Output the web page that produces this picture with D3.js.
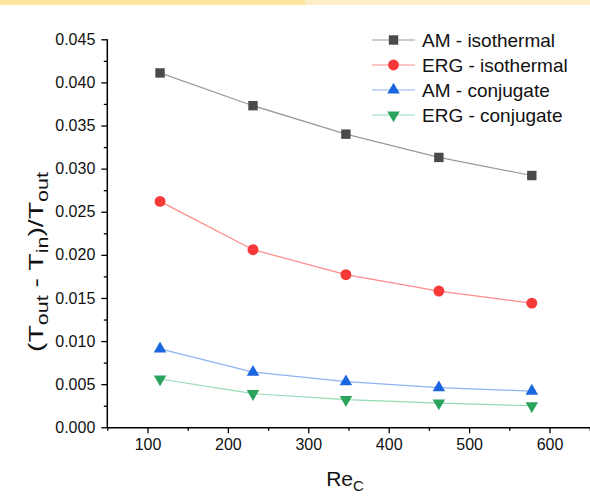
<!DOCTYPE html>
<html>
<head>
<meta charset="utf-8">
<script src="https://d3js.org/d3.v7.min.js"></script>
<style>
  body { margin: 0; background: #fff; }
  svg { display: block; font-family: "Liberation Sans", Arial, sans-serif; }
</style>
</head>
<body>
<svg id="chart" width="590" height="497"></svg>
<script>
// data
const reC = [115.6, 231.2, 346.8, 462.4, 578];
const amIso = [0.0411, 0.0373, 0.0340, 0.0313, 0.0292];
const ergIso = [0.0262, 0.0206, 0.0177, 0.0158, 0.0144];
const amConj = [0.0091, 0.0064, 0.0053, 0.0046, 0.0042];
const ergConj = [0.0056, 0.0039, 0.0032, 0.0028, 0.0025];
const seriesNames = ["AM - isothermal", "ERG - isothermal", "AM - conjugate", "ERG - conjugate"];
const xTicks = [100, 200, 300, 400, 500, 600];
const yTicks = [0, 0.005, 0.01, 0.015, 0.02, 0.025, 0.03, 0.035, 0.04, 0.045];

const svg = d3.select('#chart');

// top band
svg.append('rect').attr('x', 0).attr('y', 0).attr('width', 305).attr('height', 5).attr('fill', '#fde5a0');
svg.append('rect').attr('x', 305).attr('y', 0).attr('width', 285).attr('height', 5).attr('fill', '#fdeec6');

const x = d3.scaleLinear().domain([50, 650]).range([107.3, 589.7]);
const y = d3.scaleLinear().domain([0, 0.045]).range([427.3, 39.3]);

const series = [
  { name: seriesNames[0], values: amIso, line: '#9a9a9a', fill: '#4a4a4a', symbol: d3.symbolSquare, size: 68, rot: 0 },
  { name: seriesNames[1], values: ergIso, line: '#ff8a8a', fill: '#f53838', symbol: d3.symbolCircle, size: 72, rot: 0 },
  { name: seriesNames[2], values: amConj, line: '#8fb3f0', fill: '#1a66e0', symbol: d3.symbolTriangle, size: 52, rot: 0 },
  { name: seriesNames[3], values: ergConj, line: '#95dbb4', fill: '#2aa35c', symbol: d3.symbolTriangle, size: 52, rot: 180 }
];

// axes
const xMinor = d3.range(50, 651, 100);
const yMinor = d3.range(0.0025, 0.045, 0.005);

const xAxis = svg.append('g').attr('transform', 'translate(0,427.3)')
  .call(d3.axisBottom(x).tickValues(xTicks).tickFormat(d3.format('d')).tickSize(6).tickPadding(5));
svg.append('g').attr('transform', 'translate(0,427.3)')
  .call(d3.axisBottom(x).tickValues(xMinor).tickFormat('').tickSize(3.5))
  .select('.domain').remove();

const yAxis = svg.append('g').attr('transform', 'translate(107.3,0)')
  .call(d3.axisLeft(y).tickValues(yTicks).tickFormat(d3.format('.3f')).tickSize(6).tickPadding(6));
svg.append('g').attr('transform', 'translate(107.3,0)')
  .call(d3.axisLeft(y).tickValues(yMinor).tickFormat('').tickSize(3.5))
  .select('.domain').remove();

svg.selectAll('.domain').attr('stroke', '#000').attr('stroke-width', 1.5);
xAxis.select('.domain').attr('d', 'M107.3,0.5H590');
yAxis.select('.domain').attr('d', 'M0,39.3V427.3');
svg.selectAll('.tick line').attr('stroke', '#000').attr('stroke-width', 1.3);
svg.selectAll('.tick text').attr('fill', '#111').style('font-size', '16px').style('font-family', '"Liberation Sans", Arial, sans-serif');

// axis titles
const yt = svg.append('text')
  .attr('transform', 'translate(43,262) rotate(-90)')
  .attr('text-anchor', 'middle')
  .attr('textLength', 180).attr('lengthAdjust', 'spacingAndGlyphs')
  .style('font-size', '21px').attr('fill', '#111');
yt.append('tspan').text('(T');
yt.append('tspan').attr('dy', 5).style('font-size', '16px').text('out');
yt.append('tspan').attr('dy', -5).text(' - T');
yt.append('tspan').attr('dy', 5).style('font-size', '16px').text('in');
yt.append('tspan').attr('dy', -5).text(')/T');
yt.append('tspan').attr('dy', 5).style('font-size', '16px').text('out');

const xt = svg.append('text')
  .attr('x', 345).attr('y', 486)
  .attr('text-anchor', 'middle')
  .style('font-size', '21px').attr('fill', '#111');
xt.append('tspan').text('Re');
xt.append('tspan').attr('dy', 5).style('font-size', '15px').text('C');

// lines and markers
const line = d3.line().x(d => x(d[0])).y(d => y(d[1]));
series.forEach(s => {
  const pts = reC.map((r, i) => [r, s.values[i]]);
  svg.append('path').datum(pts).attr('d', line)
    .attr('fill', 'none').attr('stroke', s.line).attr('stroke-width', 1.2);
  svg.selectAll(null).data(pts).enter().append('path')
    .attr('d', d3.symbol().type(s.symbol).size(s.size * 1.3))
    .attr('transform', d => `translate(${x(d[0])},${y(d[1])}) rotate(${s.rot})`)
    .attr('fill', s.fill);
});

// legend
const legend = svg.append('g').attr('transform', 'translate(372,40)');
series.forEach((s, i) => {
  const g = legend.append('g').attr('transform', `translate(0,${i * 25})`);
  g.append('line').attr('x1', 0).attr('x2', 43).attr('y1', 0).attr('y2', 0)
    .attr('stroke', s.line).attr('stroke-width', 1.2);
  g.append('path').attr('d', d3.symbol().type(s.symbol).size(s.size * 1.3))
    .attr('transform', `translate(21.5,0) rotate(${s.rot})`).attr('fill', s.fill);
  g.append('text').attr('x', 50).attr('y', 6.5).style('font-size', '19px').attr('fill', '#111').text(s.name);
});
</script>
</body>
</html>
